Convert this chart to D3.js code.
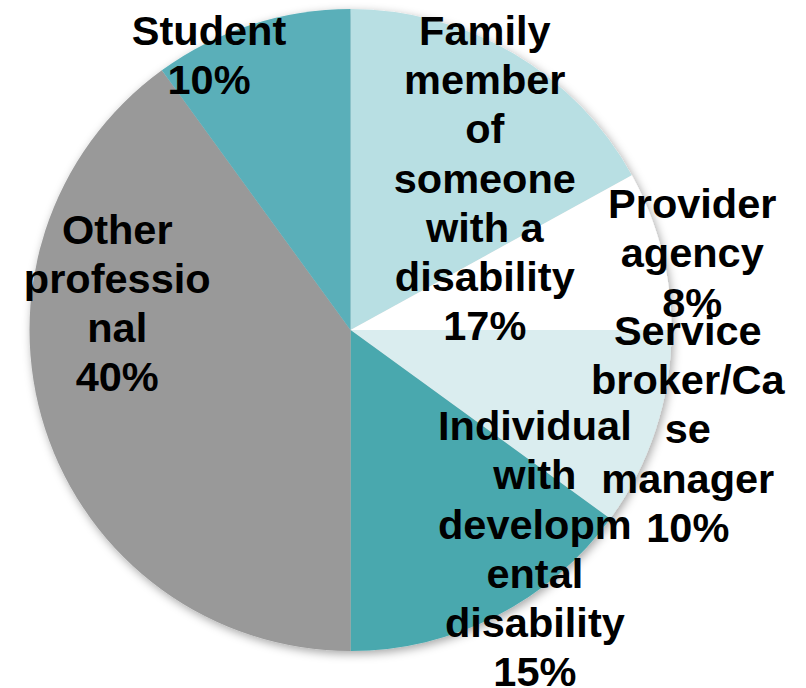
<!DOCTYPE html>
<html>
<head>
<meta charset="utf-8">
<script src="https://cdn.jsdelivr.net/npm/d3@7/dist/d3.min.js"></script>
<style>
  html, body { margin: 0; padding: 0; background: #ffffff; }
  svg { display: block; }
</style>
</head>
<body>
<svg id="chart" width="806" height="688"></svg>
<script>
// Respondent roles, clockwise from 12 o'clock
const categories = [
  "Family member of someone with a disability",
  "Provider agency",
  "Service broker/Case manager",
  "Individual with developmental disability",
  "Other professional",
  "Student"
];
const shares = [17, 8, 10, 15, 40, 10];

// Wrapped label text (percent line is appended from the share)
const labelLines = [
  ["Family", "member", "of", "someone", "with a", "disability"],
  ["Provider", "agency"],
  ["Service", "broker/Ca", "se", "manager"],
  ["Individual", "with", "developm", "ental", "disability"],
  ["Other", "professio", "nal"],
  ["Student"]
];

const sliceColors = ["#b8dfe3", "#ffffff", "#daedef", "#48a8ae", "#999999", "#5aafb9"];

// Label nudges relative to each slice's label-arc centroid
const labelNudge = [
  [33, 19], [149, -28], [148, 37], [94, 41], [-44, -89], [-80, -86]
];

const svg = d3.select("#chart");
const cx = 350.5, cy = 330, radius = 321;
const fontSize = 41.5, lineHeight = 49.2;

const defs = svg.append("defs");
const shadow = defs.append("filter")
  .attr("id", "pieShadow")
  .attr("x", "-10%").attr("y", "-10%")
  .attr("width", "120%").attr("height", "120%");
shadow.append("feDropShadow")
  .attr("dx", 2).attr("dy", 3)
  .attr("stdDeviation", 5)
  .attr("flood-color", "#000")
  .attr("flood-opacity", 0.35);

const data = categories.map((c, i) => ({ category: c, share: shares[i], index: i }));

const pie = d3.pie().value(d => d.share).sort(null);
const arcs = pie(data);

const arc = d3.arc().innerRadius(0).outerRadius(radius);
const labelArc = d3.arc().innerRadius(radius * 0.62).outerRadius(radius * 0.62);

const color = d3.scaleOrdinal().domain(categories).range(sliceColors);

const g = svg.append("g").attr("transform", `translate(${cx},${cy})`);

g.append("g")
  .attr("filter", "url(#pieShadow)")
  .selectAll("path")
  .data(arcs)
  .join("path")
  .attr("d", arc)
  .attr("fill", d => color(d.data.category));

const fmt = d3.format(".0%");

const labels = g.append("g")
  .selectAll("text")
  .data(arcs)
  .join("text")
  .attr("font-family", "'Liberation Sans', Arial, Helvetica, sans-serif")
  .attr("font-weight", "bold")
  .attr("font-size", fontSize)
  .attr("fill", "#000")
  .attr("text-anchor", "middle")
  .each(function (d) {
    const i = d.data.index;
    const lines = labelLines[i].concat([fmt(d.data.share / 100)]);
    const [ax, ay] = labelArc.centroid(d);
    const x = ax + labelNudge[i][0];
    const yc = ay + labelNudge[i][1];
    const y0 = yc - (lines.length - 1) * lineHeight / 2 + fontSize * 0.716 / 2;
    d3.select(this).selectAll("tspan")
      .data(lines)
      .join("tspan")
      .attr("x", x)
      .attr("y", (t, k) => y0 + k * lineHeight)
      .text(t => t);
  });
</script>
</body>
</html>
